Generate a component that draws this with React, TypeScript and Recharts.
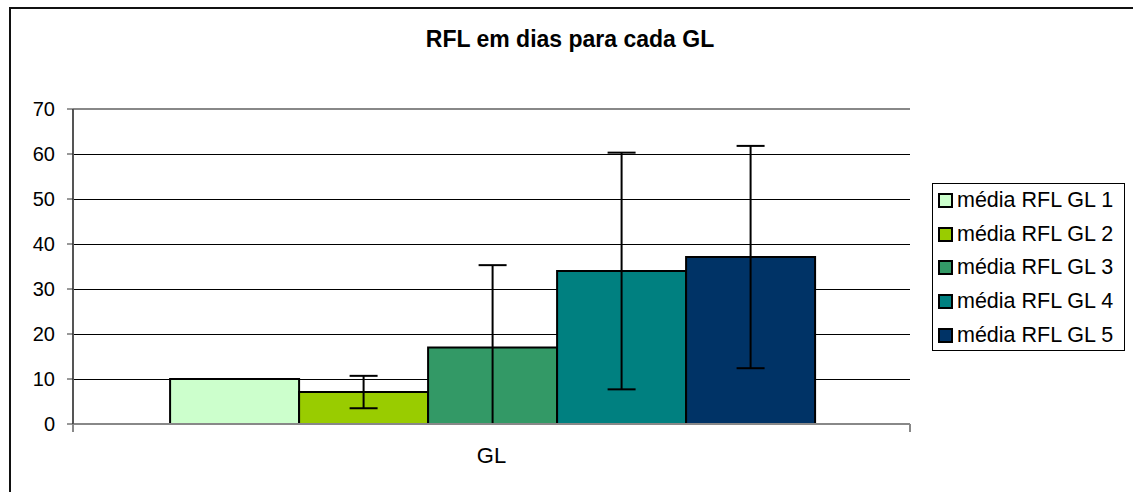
import { BarChart, Bar, XAxis, YAxis, CartesianGrid, ErrorBar, ReferenceLine } from "recharts";

const categories = ["GL"];
const seriesKeys = ["gl1", "gl2", "gl3", "gl4", "gl5"];
const seriesNames = ["média RFL GL 1", "média RFL GL 2", "média RFL GL 3", "média RFL GL 4", "média RFL GL 5"];
const means = [10, 7.1, 17, 34, 37.1];
// visible error extents (the lower bar of GL 3 is cut at the axis)
const errLow = [0, 3.6, 17, 26.3, 24.7];
const errHigh = [0, 3.6, 18.3, 26.3, 24.7];
const colors = ["#CCFFCC", "#99CC00", "#339966", "#008080", "#003366"];
const yTicks = [0, 10, 20, 30, 40, 50, 60, 70];

const FONT = '"Liberation Sans", Arial, sans-serif';

const data = categories.map((name) => {
  const row: Record<string, unknown> = { name };
  seriesKeys.forEach((k, i) => {
    row[k] = means[i];
    row[k + "Err"] = [errLow[i], errHigh[i]];
  });
  return row;
});

function CategoryTick(props: any) {
  const { x, y, payload } = props;
  const half = payload?.offset ?? 0;
  return (
    <g>
      <line x1={x - half} x2={x - half} y1={y} y2={y + 8} stroke="#888" strokeWidth={2} />
      <line x1={x + half} x2={x + half} y1={y} y2={y + 8} stroke="#888" strokeWidth={2} />
      <text x={x} y={y + 39} textAnchor="middle" fontSize={22} fontFamily={FONT} fill="#000">
        {payload.value}
      </text>
    </g>
  );
}

function Legenda() {
  return (
    <div
      style={{
        position: "absolute",
        left: 932,
        top: 183,
        width: 193,
        height: 168,
        border: "1px solid #000",
        boxSizing: "border-box",
        fontFamily: FONT,
        fontSize: 21.5,
        color: "#000",
      }}
    >
      {seriesNames.map((n, i) => (
        <div key={n} style={{ display: "flex", alignItems: "center", height: 33.6, paddingLeft: 5 }}>
          <span
            style={{
              display: "inline-block",
              width: 11,
              height: 11,
              border: "2px solid #000",
              background: colors[i],
              marginRight: 4,
            }}
          />
          <span style={{ whiteSpace: "nowrap" }}>{n}</span>
        </div>
      ))}
    </div>
  );
}

export default function App() {
  return (
    <div
      style={{
        position: "absolute",
        left: 0,
        top: 0,
        width: 1133,
        height: 492,
        overflow: "hidden",
        background: "#fff",
        fontFamily: FONT,
      }}
    >
      <div
        style={{
          position: "absolute",
          left: 9,
          top: 7,
          width: 1300,
          height: 700,
          borderTop: "2px solid #111",
          borderLeft: "2px solid #111",
        }}
      />
      <div
        style={{
          position: "absolute",
          left: 370,
          top: 26,
          width: 400,
          textAlign: "center",
          fontWeight: "bold",
          fontSize: 23,
          color: "#000",
        }}
      >
        RFL em dias para cada GL
      </div>
      <div style={{ position: "absolute", left: 0, top: 0 }}>
        <BarChart
          width={1133}
          height={492}
          data={data}
          margin={{ top: 109, right: 223, left: 0, bottom: 18 }}
          barCategoryGap="11.6%"
          barGap={0}
        >
          <CartesianGrid vertical={false} stroke="#000" strokeWidth={1} shapeRendering="crispEdges" />
          <XAxis
            dataKey="name"
            height={50}
            tickLine={false}
            tickSize={0}
            tickMargin={0}
            axisLine={{ stroke: "#888", strokeWidth: 2 }}
            tick={<CategoryTick />}
          />
          <YAxis
            domain={[0, 70]}
            ticks={yTicks}
            allowDataOverflow
            width={73}
            tickSize={6}
            tickMargin={12}
            axisLine={{ stroke: "#555", strokeWidth: 2 }}
            tickLine={{ stroke: "#333", strokeWidth: 1 }}
            tick={{ fontSize: 20, fill: "#000", fontFamily: FONT }}
          />
          <YAxis
            yAxisId="r"
            orientation="right"
            domain={[0, 70]}
            width={0}
            tick={false}
            tickLine={false}
            axisLine={{ stroke: "#888", strokeWidth: 2 }}
          />
          <ReferenceLine y={70} stroke="#888" strokeWidth={2} />
          {seriesKeys.map((k, i) => (
            <Bar
              key={k}
              dataKey={k}
              name={seriesNames[i]}
              fill={colors[i]}
              stroke="#000"
              strokeWidth={2}
              isAnimationActive={false}
            >
              {errHigh[i] > 0 && (
                <ErrorBar dataKey={k + "Err"} width={14} stroke="#000" strokeWidth={2} direction="y" />
              )}
            </Bar>
          ))}
        </BarChart>
      </div>
      <Legenda />
    </div>
  );
}
